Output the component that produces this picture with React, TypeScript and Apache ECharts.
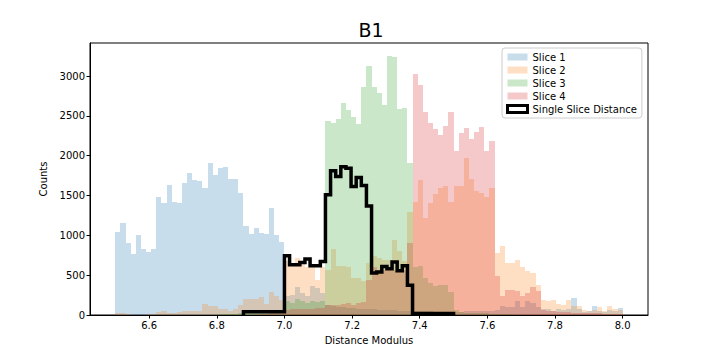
import React, { useEffect, useRef } from "react";
import * as echarts from "echarts";

// Histogram binning (shared by all slices): 99 bins between 6.5 and 8.0
const X_MIN = 6.5;
const X_MAX = 8.0;
const N_BINS = 99;

const X_TICKS = [6.6, 6.8, 7.0, 7.2, 7.4, 7.6, 7.8, 8.0];
const Y_TICKS = [0, 500, 1000, 1500, 2000, 2500, 3000];

const SLICE_1 = [
  1036, 1149, 907, 769, 1007, 823, 794, 823, 1483, 1400, 1638, 1421, 1400, 1663, 1784, 1697, 1684,
  1600, 1910, 1763, 1847, 1860, 1709, 1709, 1537, 1120, 1023, 1095, 1032, 1011, 1346, 1007, 919,
  242, 250, 346, 280, 242, 367, 338, 280,
  120, 110, 100, 100, 90, 90, 80, 80,
  70, 70, 60, 60, 60, 60, 50, 50, 50,
  50, 50, 45, 45, 40, 40, 40, 40, 40, 40, 45, 45, 50, 50, 50, 55,
  60, 117, 100, 100, 171, 100, 171, 150, 100, 80, 70, 50, 80, 60, 80, 217, 80, 40, 50, 117, 50, 40,
  60, 50, 91,
];

const SLICE_2 = [
  25, 25, 8, 5, 5, 5, 8, 10, 40, 50, 25, 25, 40, 45, 45, 45, 45, 142, 117, 108, 79, 71, 54, 79, 121,
  204, 204, 204, 230, 142, 292, 234, 192,
  680, 630, 714, 656, 605, 600, 443, 600,
  568, 831, 618, 610, 600, 468, 468, 421, 652, 743, 720, 693, 693, 936, 798, 672, 1291,
  1425, 1697, 1220, 1408, 1520, 1600, 1625, 1425, 1625, 1621, 1977, 1713, 1559, 1530, 1480, 1592,
  781, 869, 650, 650, 685, 608, 550, 522, 373, 183, 171, 192, 142, 129, 192, 117, 117, 66, 50, 60,
  96, 50, 117, 75, 58,
];

const SLICE_3 = [
  0, 0, 0, 0, 0, 0, 0, 0, 0, 0, 0, 0, 0, 0, 0, 0, 0, 0, 0, 0,
  10, 10, 15, 15, 20, 20, 25, 30,
  30, 40, 40, 50, 60,
  171, 146, 200, 180, 150, 170, 160, 180,
  2437, 2416, 2458, 2662, 2575, 2491, 2399, 2863, 3126, 2863, 2784, 2637, 3252, 3243, 2587, 2600, 1906,
  600, 610, 464, 401, 367, 380, 380, 284, 66,
  40, 30, 30, 25, 20, 20, 15,
  15, 10, 10, 10, 5, 5, 5, 0, 0, 0, 0, 0, 0, 0, 0, 0, 0, 0, 0, 0, 0, 0, 0, 0, 0,
];

const SLICE_4 = [
  0, 0, 0, 0, 0, 0, 0, 0, 0, 0, 0, 0, 0, 0, 0, 0, 0, 0, 0, 0, 0, 0, 0, 0, 0, 0, 0, 0,
  10, 15, 20, 25, 30,
  60, 70, 70, 80, 70, 80, 90, 90,
  120, 130, 120, 140, 150, 130, 150, 160,
  440, 600, 560, 560, 570, 570, 560, 570, 900,
  3030, 2888, 2553, 2416, 2332, 2261, 2374, 2553, 2060, 2282, 2345, 2207, 2303, 2357, 2060, 2186,
  493, 242, 317, 317, 305, 243, 280, 355, 300,
  60, 50, 50, 40, 40, 40, 30, 30, 30, 20, 20, 20, 15, 15, 10, 10,
];

// Single slice distance histogram: first bin index, then counts
const SINGLE_START_BIN = 25;
const SINGLE_SLICE = [
  40, 40, 40, 40, 40, 40, 40, 40,
  743, 631, 631, 660, 702, 618, 618, 672,
  1509, 1810, 1738, 1860, 1843, 1613, 1726, 1625, 1370, 527, 540, 610, 580, 665, 555, 618, 375,
  20, 20, 20, 20, 20, 20, 20, 20,
];

const EDGES = Array.from({ length: N_BINS + 1 }, (_, i) => X_MIN + (i * (X_MAX - X_MIN)) / N_BINS);

const FONT = "DejaVu Sans";

function histSeries(name: string, counts: number[], color: string) {
  const data = counts
    .map((c, i) => [EDGES[i], EDGES[i + 1], c])
    .filter((d) => d[2] > 0);
  return {
    type: "custom",
    name,
    data,
    silent: true,
    encode: { x: [0, 1], y: 2 },
    itemStyle: { color },
    renderItem: (params: any, api: any) => {
      const a = api.coord([api.value(0), api.value(2)]);
      const b = api.coord([api.value(1), 0]);
      const x0 = Math.round(a[0]);
      const x1 = Math.round(b[0]);
      const y0 = Math.round(a[1]);
      const y1 = Math.round(b[1]);
      return {
        type: "rect",
        shape: { x: x0, y: y0, width: x1 - x0, height: y1 - y0 },
        style: { fill: color },
      };
    },
  };
}

function stepData() {
  const pts: number[][] = [];
  const s = SINGLE_START_BIN;
  pts.push([EDGES[s], 0]);
  SINGLE_SLICE.forEach((c, k) => pts.push([EDGES[s + k], c]));
  const endEdge = EDGES[s + SINGLE_SLICE.length];
  pts.push([endEdge, SINGLE_SLICE[SINGLE_SLICE.length - 1]]);
  pts.push([endEdge, 0]);
  return pts;
}

export default function App() {
  const ref = useRef<HTMLDivElement>(null);
  useEffect(() => {
    if (!ref.current) return;
    const chart = echarts.init(ref.current, null, { renderer: "svg" });
    const option: any = {
      animation: false,
      textStyle: { fontFamily: FONT },
      title: {
        text: "B1",
        left: 366,
        top: 15,
        textAlign: "center",
        textStyle: { fontSize: 19, fontWeight: "normal", color: "#000", fontFamily: FONT },
      },
      grid: {
        left: 90,
        right: 72,
        top: 43,
        bottom: 45,
        show: true,
        borderColor: "#000",
        borderWidth: 1,
        backgroundColor: "transparent",
      },
      xAxis: {
        type: "value",
        min: 6.425,
        max: 8.075,
        name: "Distance Modulus",
        nameLocation: "middle",
        nameGap: 20,
        nameTextStyle: { fontSize: 10, color: "#000", fontFamily: FONT },
        axisLine: { show: true, onZero: false, lineStyle: { color: "#000", width: 1 } },
        axisTick: { show: true, length: 3.5, customValues: X_TICKS, lineStyle: { color: "#000" } },
        axisLabel: {
          customValues: X_TICKS,
          formatter: (v: number) => v.toFixed(1),
          fontSize: 10,
          color: "#000",
          margin: 5,
          fontFamily: FONT,
        },
        splitLine: { show: false },
      },
      yAxis: {
        type: "value",
        min: 0,
        max: 3415,
        name: "Counts",
        nameLocation: "middle",
        nameGap: 37,
        nameTextStyle: { fontSize: 10, color: "#000", fontFamily: FONT },
        axisLine: { show: true, lineStyle: { color: "#000", width: 1 } },
        axisTick: { show: true, length: 3.5, customValues: Y_TICKS, lineStyle: { color: "#000" } },
        axisLabel: {
          customValues: Y_TICKS,
          formatter: (v: number) => String(Math.round(v)),
          fontSize: 10,
          color: "#000",
          margin: 5,
          fontFamily: FONT,
        },
        splitLine: { show: false },
      },
      legend: {
        orient: "vertical",
        left: 502,
        top: 48,
        itemWidth: 20,
        itemHeight: 7,
        itemGap: 3,
        itemTextGap: 5,
        padding: [4, 5, 4, 4],
        backgroundColor: "rgba(255,255,255,0.8)",
        borderColor: "#cccccc",
        borderWidth: 1,
        borderRadius: 3,
        textStyle: { fontSize: 10, color: "#000", fontFamily: FONT },
        data: [
          { name: "Slice 1", icon: "rect" },
          { name: "Slice 2", icon: "rect" },
          { name: "Slice 3", icon: "rect" },
          { name: "Slice 4", icon: "rect" },
          {
            name: "Single Slice Distance",
            icon: "rect",
            itemStyle: { color: "#ffffff", borderColor: "#000000", borderWidth: 3 },
          },
        ],
      },
      series: [
        histSeries("Slice 1", SLICE_1, "rgba(31,119,180,0.25)"),
        histSeries("Slice 2", SLICE_2, "rgba(255,127,14,0.25)"),
        histSeries("Slice 3", SLICE_3, "rgba(44,160,44,0.25)"),
        histSeries("Slice 4", SLICE_4, "rgba(214,39,40,0.25)"),
        {
          type: "line",
          name: "Single Slice Distance",
          step: "end",
          data: stepData(),
          symbol: "none",
          showSymbol: false,
          silent: true,
          z: 10,
          itemStyle: { color: "#000" },
          lineStyle: { color: "#000", width: 3.5, join: "miter", cap: "butt" },
        },
      ],
    };
    chart.setOption(option);
    return () => chart.dispose();
  }, []);
  return (
    <div
      ref={ref}
      style={{ position: "absolute", left: 0, top: 0, width: 720, height: 360 }}
    />
  );
}
